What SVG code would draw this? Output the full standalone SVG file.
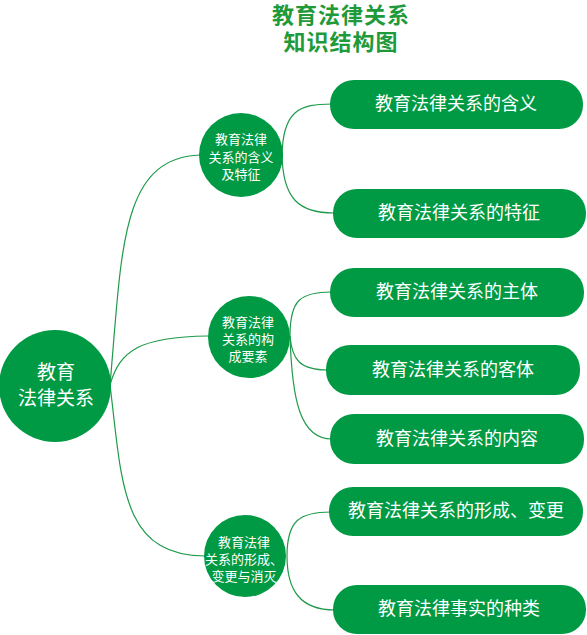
<svg xmlns="http://www.w3.org/2000/svg" width="587" height="635" viewBox="0 0 587 635">
<style>
.t{font-family:"Noto Sans CJK SC","Noto Sans",sans-serif;fill:#fff;text-anchor:middle}
.title{font-family:"Noto Sans CJK SC","Noto Sans",sans-serif;fill:#1f9a3a;font-weight:bold;font-size:22px;text-anchor:middle;letter-spacing:1px}
.node{fill:#009a44}
.leaf{font-size:18px}
.sub{font-size:13px}
.root{font-size:19px}
.c{fill:none;stroke:#1e9a4a;stroke-width:1.2}
</style>
<rect width="587" height="635" fill="#fff"/>
<g id="title">
<text class="title" x="341" y="23">教育法律关系</text>
<text class="title" x="341" y="50">知识结构图</text>
</g>
<g id="connectors">
<path class="c" d="M110,385 C122,250 120,158 200,155"/>
<path class="c" d="M110,385 C120,350 140,337 208,336"/>
<path class="c" d="M110,385 C122,480 120,556 205,556"/>
<path class="c" d="M282,158 C282,110 300,104 332,104"/>
<path class="c" d="M282,152 C282,200 300,213 334,213"/>
<path class="c" d="M290,336 C290,300 300,292 332,292"/>
<path class="c" d="M290,336 C292,360 300,370 328,370"/>
<path class="c" d="M290,336 C292,400 300,439 332,439"/>
<path class="c" d="M287,556 C287,520 300,512 331,512"/>
<path class="c" d="M287,556 C287,590 300,610 335,610"/>
</g>
<g id="root">
<circle class="node" cx="55" cy="386" r="56"/>
<text class="t root" x="56" y="379">教育</text>
<text class="t root" x="56" y="405">法律关系</text>
</g>
<g id="sub1">
<circle class="node" cx="241" cy="155" r="42"/>
<text class="t sub" x="241" y="144">教育法律</text>
<text class="t sub" x="241" y="162">关系的含义</text>
<text class="t sub" x="241" y="179">及特征</text>
</g>
<g id="sub2">
<circle class="node" cx="249" cy="337" r="41"/>
<text class="t sub" x="248" y="327">教育法律</text>
<text class="t sub" x="248" y="344">关系的构</text>
<text class="t sub" x="248" y="361">成要素</text>
</g>
<g id="sub3">
<circle class="node" cx="245" cy="556" r="41"/>
<text class="t sub" x="244" y="547">教育法律</text>
<text class="t sub" x="244" y="564">关系的形成、</text>
<text class="t sub" x="244" y="581">变更与消灭</text>
</g>
<g id="leaf1">
<rect class="node" x="330" y="80" width="253" height="49" rx="24"/>
<text class="t leaf" x="456" y="110">教育法律关系的含义</text>
</g>
<g id="leaf2">
<rect class="node" x="333" y="189" width="253" height="49" rx="24"/>
<text class="t leaf" x="459" y="219">教育法律关系的特征</text>
</g>
<g id="leaf3">
<rect class="node" x="330" y="268" width="254" height="49" rx="24"/>
<text class="t leaf" x="457" y="298">教育法律关系的主体</text>
</g>
<g id="leaf4">
<rect class="node" x="326" y="345" width="254" height="50" rx="24"/>
<text class="t leaf" x="453" y="376">教育法律关系的客体</text>
</g>
<g id="leaf5">
<rect class="node" x="330" y="414" width="254" height="50" rx="24"/>
<text class="t leaf" x="457" y="445">教育法律关系的内容</text>
</g>
<g id="leaf6">
<rect class="node" x="329" y="487" width="254" height="49" rx="24"/>
<text class="t leaf" x="456" y="517">教育法律关系的形成、变更</text>
</g>
<g id="leaf7">
<rect class="node" x="333" y="585" width="253" height="49" rx="24"/>
<text class="t leaf" x="459" y="615">教育法律事实的种类</text>
</g>
</svg>
